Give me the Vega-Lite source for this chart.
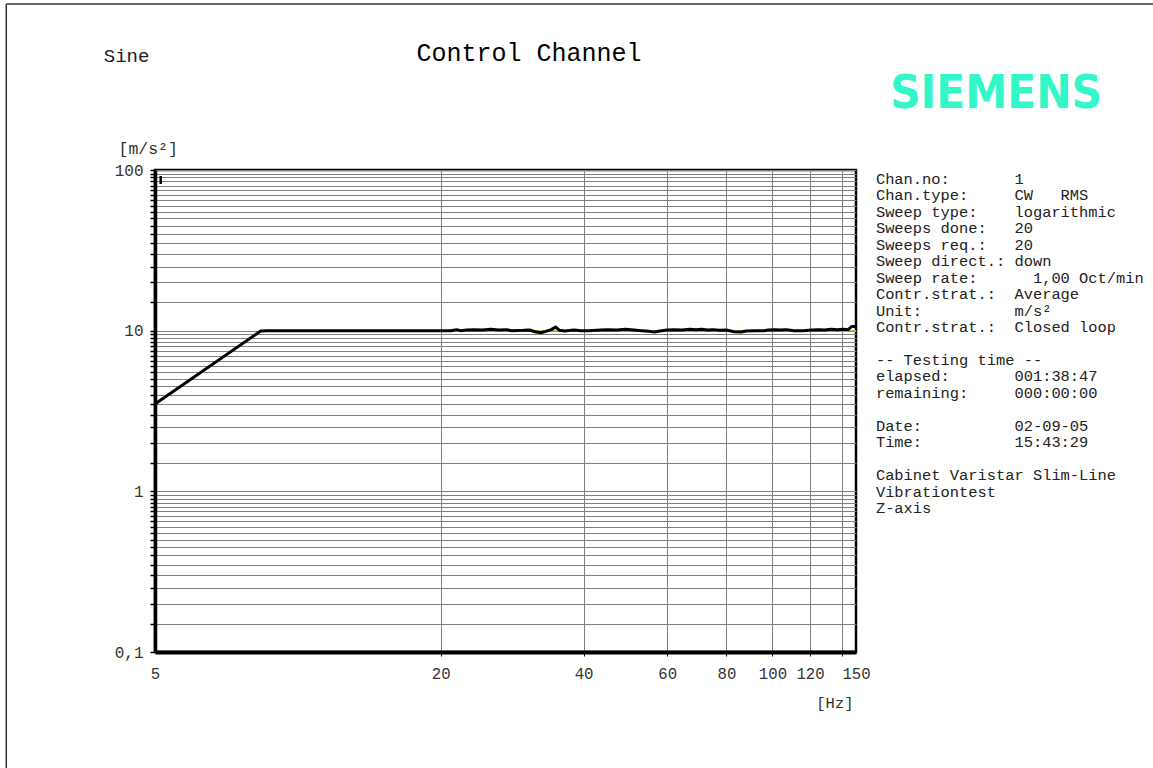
{
  "$schema": "https://vega.github.io/schema/vega-lite/v6.json",
  "width": 701,
  "height": 482,
  "autosize": {"type": "none"},
  "padding": {"left": 155, "top": 170, "right": 297, "bottom": 116},
  "background": "white",
  "config": {
    "view": {"stroke": "black", "strokeWidth": 2.5},
    "font": "Liberation Mono"
  },
  "datasets": {
    "control": [
      {"f": 5, "a": 3.5},
      {"f": 8.35, "a": 9.95},
      {"f": 8.6, "a": 10.0},
      {"f": 12, "a": 10.0},
      {"f": 16, "a": 10.0},
      {"f": 21, "a": 10.0},
      {"f": 21.6, "a": 10.15},
      {"f": 22, "a": 10.0},
      {"f": 22.7, "a": 10.1},
      {"f": 23.5, "a": 10.15},
      {"f": 24.5, "a": 10.1},
      {"f": 25.5, "a": 10.2},
      {"f": 26.5, "a": 10.1},
      {"f": 27.5, "a": 10.15},
      {"f": 28.2, "a": 10.0},
      {"f": 29.9, "a": 10.05},
      {"f": 30.8, "a": 10.1},
      {"f": 31.6, "a": 9.85},
      {"f": 32.5, "a": 9.7},
      {"f": 33.3, "a": 9.9},
      {"f": 34.2, "a": 10.15},
      {"f": 34.9, "a": 10.55},
      {"f": 35.6, "a": 10.05},
      {"f": 36.5, "a": 9.95},
      {"f": 38.2, "a": 10.1},
      {"f": 39.5, "a": 10.0},
      {"f": 41, "a": 10.0},
      {"f": 43.5, "a": 10.1},
      {"f": 45, "a": 10.15},
      {"f": 47, "a": 10.1},
      {"f": 49, "a": 10.2},
      {"f": 51, "a": 10.1},
      {"f": 53, "a": 10.0},
      {"f": 55, "a": 9.9},
      {"f": 56.4, "a": 9.8},
      {"f": 58, "a": 9.95},
      {"f": 60, "a": 10.1},
      {"f": 62, "a": 10.15},
      {"f": 64.5, "a": 10.1},
      {"f": 67, "a": 10.2},
      {"f": 69, "a": 10.15},
      {"f": 71, "a": 10.2},
      {"f": 73, "a": 10.1},
      {"f": 75, "a": 10.15},
      {"f": 77.5, "a": 10.05},
      {"f": 80, "a": 10.1},
      {"f": 83, "a": 9.85},
      {"f": 85.9, "a": 9.8},
      {"f": 88, "a": 9.95},
      {"f": 92, "a": 10.0},
      {"f": 96, "a": 10.0},
      {"f": 98, "a": 10.1},
      {"f": 101, "a": 10.15},
      {"f": 104, "a": 10.1},
      {"f": 107, "a": 10.15},
      {"f": 111, "a": 10.0},
      {"f": 116, "a": 10.0},
      {"f": 121, "a": 10.1},
      {"f": 125, "a": 10.15},
      {"f": 129, "a": 10.1},
      {"f": 133, "a": 10.2},
      {"f": 137, "a": 10.15},
      {"f": 141, "a": 10.2},
      {"f": 144.4, "a": 10.15},
      {"f": 146.8, "a": 10.6},
      {"f": 150, "a": 10.6}
    ],
    "reference": [
      {"f": 5, "a": 3.5},
      {"f": 8.4, "a": 10.0},
      {"f": 150, "a": 10.0}
    ]
  },
  "resolve": {"axis": {"x": "independent", "y": "independent"}},
  "layer": [
    {
      "data": {"values": [{}]},
      "mark": {"type": "rule", "color": "#333", "strokeWidth": 1.5},
      "encoding": {
        "x": {"datum": 2.43, "type": "quantitative", "scale": {"type": "log", "domain": [5, 150], "nice": false}, "axis": null},
        "y": {"datum": 1080, "type": "quantitative", "scale": {"type": "log", "domain": [0.1, 100], "nice": false}, "axis": null},
        "y2": {"datum": 0.001}
      }
    },
    {
      "data": {"values": [{}]},
      "mark": {"type": "rule", "color": "#333", "strokeWidth": 1.5},
      "encoding": {
        "x": {"datum": 2.43, "type": "quantitative", "scale": {"type": "log", "domain": [5, 150], "nice": false}, "axis": null},
        "x2": {"datum": 100000},
        "y": {"datum": 1080, "type": "quantitative", "scale": {"type": "log", "domain": [0.1, 100], "nice": false}, "axis": null}
      }
    },
    {
      "data": {"name": "reference"},
      "mark": {"type": "line", "color": "#8fd44a", "strokeWidth": 1.5},
      "encoding": {
        "x": {
          "field": "f", "type": "quantitative",
          "scale": {"type": "log", "domain": [5, 150], "nice": false},
          "axis": {
            "orient": "bottom",
            "values": [5, 20, 40, 60, 80, 100, 120, 150],
            "grid": false, "ticks": false, "domain": false,
            "labelFont": "Liberation Mono", "labelFontSize": 15.7, "labelColor": "#333",
            "labelPadding": 14, "labelOverlap": false, "labelFlush": false,
            "labelExpr": "datum.value == 5 ? '5' : datum.value == 20 ? '20' : datum.value == 40 ? '40' : datum.value == 60 ? '60' : datum.value == 80 ? '80' : datum.value == 100 ? '100' : datum.value == 120 ? '120' : '150'",
            "title": "[Hz]", "titleFont": "Liberation Mono", "titleFontSize": 15.5, "titleFontWeight": "normal", "titleColor": "#333",
            "titleAnchor": "end", "titleAlign": "right", "titleX": 698, "titleY": 55, "titleBaseline": "alphabetic"
          }
        },
        "y": {"field": "a", "type": "quantitative", "scale": {"type": "log", "domain": [0.1, 100], "nice": false}, "axis": null}
      }
    },
    {
      "data": {"name": "control"},
      "mark": {"type": "line", "color": "black", "strokeWidth": 3, "strokeJoin": "round"},
      "encoding": {
        "x": {
          "field": "f", "type": "quantitative",
          "scale": {"type": "log", "domain": [5, 150], "nice": false},
          "axis": {
            "orient": "bottom",
            "values": [20, 40, 60, 80, 100, 120, 140],
            "grid": true, "gridColor": "#808080", "gridWidth": 1, "gridOpacity": 1,
            "ticks": true, "tickSize": 4, "tickColor": "black", "tickWidth": 1,
            "labels": false,
            "domain": true, "domainColor": "black", "domainWidth": 4,
            "title": null
          }
        },
        "y": {
          "field": "a", "type": "quantitative",
          "scale": {"type": "log", "domain": [0.1, 100], "nice": false},
          "axis": {
            "orient": "left",
            "values": [0.1, 0.15, 0.2, 0.25, 0.3, 0.35, 0.4, 0.45, 0.5, 0.55, 0.6, 0.65, 0.7, 0.75, 0.8, 0.85, 0.9, 0.95,
                       1, 1.5, 2, 2.5, 3, 3.5, 4, 4.5, 5, 5.5, 6, 6.5, 7, 7.5, 8, 8.5, 9, 9.5,
                       10, 15, 20, 25, 30, 35, 40, 45, 50, 55, 60, 65, 70, 75, 80, 85, 90, 95, 100],
            "grid": true, "gridColor": "#808080", "gridWidth": 1, "gridOpacity": 1,
            "ticks": true, "tickSize": 5, "tickColor": "black", "tickWidth": 1.5,
            "domain": true, "domainColor": "black", "domainWidth": 3.5,
            "labelFont": "Liberation Mono", "labelFontSize": 16, "labelColor": "#333",
            "labelPadding": 7, "labelOverlap": false, "labelFlush": false,
            "labelExpr": "datum.value == 0.1 ? '0,1' : datum.value == 1 ? '1' : datum.value == 10 ? '10' : datum.value == 100 ? '100' : ''",
            "title": "[m/s²]", "titleFont": "Liberation Mono", "titleFontSize": 16.5, "titleFontWeight": "normal", "titleColor": "#333",
            "titleAngle": 0, "titleAlign": "left", "titleBaseline": "alphabetic", "titleX": -37, "titleY": -17
          }
        }
      }
    },
    {
      "data": {"values": [{}]},
      "mark": {"type": "rule", "color": "black", "strokeWidth": 2.5},
      "encoding": {
        "x": {"datum": 5.14, "type": "quantitative", "scale": {"type": "log", "domain": [5, 150], "nice": false}, "axis": null},
        "y": {"datum": 81.8, "type": "quantitative", "scale": {"type": "log", "domain": [0.1, 100], "nice": false}, "axis": null},
        "y2": {"datum": 91.8}
      }
    },
    {
      "data": {"values": [{"t": "Sine"}]},
      "mark": {"type": "text", "font": "Liberation Mono", "fontSize": 19, "color": "#222", "align": "left", "baseline": "alphabetic"},
      "encoding": {
        "x": {"datum": 3.9, "type": "quantitative", "scale": {"type": "log", "domain": [5, 150], "nice": false}, "axis": null},
        "y": {"datum": 470, "type": "quantitative", "scale": {"type": "log", "domain": [0.1, 100], "nice": false}, "axis": null},
        "text": {"field": "t"}
      }
    },
    {
      "data": {"values": [{"t": "Control Channel"}]},
      "mark": {"type": "text", "font": "Liberation Mono", "fontSize": 25, "color": "black", "align": "center", "baseline": "alphabetic"},
      "encoding": {
        "x": {"datum": 30.7, "type": "quantitative", "scale": {"type": "log", "domain": [5, 150], "nice": false}, "axis": null},
        "y": {"datum": 480, "type": "quantitative", "scale": {"type": "log", "domain": [0.1, 100], "nice": false}, "axis": null},
        "text": {"field": "t"}
      }
    },
    {
      "data": {"values": [{"t": "SIEMENS"}]},
      "mark": {"type": "text", "font": "DejaVu Sans Condensed, DejaVu Sans", "fontWeight": "bold", "fontSize": 47, "color": "#33f7c8", "align": "center", "baseline": "alphabetic"},
      "encoding": {
        "x": {"datum": 296, "type": "quantitative", "scale": {"type": "log", "domain": [5, 150], "nice": false}, "axis": null},
        "y": {"datum": 244, "type": "quantitative", "scale": {"type": "log", "domain": [0.1, 100], "nice": false}, "axis": null},
        "text": {"field": "t"}
      }
    },
    {
      "data": {"values": [{"t": "Chan.no:\u00a0\u00a0\u00a0\u00a0\u00a0\u00a0\u00a01\nChan.type:\u00a0\u00a0\u00a0\u00a0\u00a0CW\u00a0\u00a0\u00a0RMS\nSweep\u00a0type:\u00a0\u00a0\u00a0\u00a0logarithmic\nSweeps\u00a0done:\u00a0\u00a0\u00a020\nSweeps\u00a0req.:\u00a0\u00a0\u00a020\nSweep\u00a0direct.:\u00a0down\nSweep\u00a0rate:\u00a0\u00a0\u00a0\u00a0\u00a0\u00a01,00\u00a0Oct/min\nContr.strat.:\u00a0\u00a0Average\nUnit:\u00a0\u00a0\u00a0\u00a0\u00a0\u00a0\u00a0\u00a0\u00a0\u00a0m/s²\nContr.strat.:\u00a0\u00a0Closed\u00a0loop"}]},
      "mark": {"type": "text", "font": "Liberation Mono", "fontSize": 15.4, "lineHeight": 16.45, "lineBreak": "\n", "color": "#222", "align": "left", "baseline": "alphabetic"},
      "encoding": {
        "x": {"datum": 165.2, "type": "quantitative", "scale": {"type": "log", "domain": [5, 150], "nice": false}, "axis": null},
        "y": {"datum": 81.8, "type": "quantitative", "scale": {"type": "log", "domain": [0.1, 100], "nice": false}, "axis": null},
        "text": {"field": "t"}
      }
    },
    {
      "data": {"values": [{"t": "--\u00a0Testing\u00a0time\u00a0--\nelapsed:\u00a0\u00a0\u00a0\u00a0\u00a0\u00a0\u00a0001:38:47\nremaining:\u00a0\u00a0\u00a0\u00a0\u00a0000:00:00"}]},
      "mark": {"type": "text", "font": "Liberation Mono", "fontSize": 15.4, "lineHeight": 16.45, "lineBreak": "\n", "color": "#222", "align": "left", "baseline": "alphabetic"},
      "encoding": {
        "x": {"datum": 165.2, "type": "quantitative", "scale": {"type": "log", "domain": [5, 150], "nice": false}, "axis": null},
        "y": {"datum": 6.117, "type": "quantitative", "scale": {"type": "log", "domain": [0.1, 100], "nice": false}, "axis": null},
        "text": {"field": "t"}
      }
    },
    {
      "data": {"values": [{"t": "Date:\u00a0\u00a0\u00a0\u00a0\u00a0\u00a0\u00a0\u00a0\u00a0\u00a002-09-05\nTime:\u00a0\u00a0\u00a0\u00a0\u00a0\u00a0\u00a0\u00a0\u00a0\u00a015:43:29"}]},
      "mark": {"type": "text", "font": "Liberation Mono", "fontSize": 15.4, "lineHeight": 16.45, "lineBreak": "\n", "color": "#222", "align": "left", "baseline": "alphabetic"},
      "encoding": {
        "x": {"datum": 165.2, "type": "quantitative", "scale": {"type": "log", "domain": [5, 150], "nice": false}, "axis": null},
        "y": {"datum": 2.383, "type": "quantitative", "scale": {"type": "log", "domain": [0.1, 100], "nice": false}, "axis": null},
        "text": {"field": "t"}
      }
    },
    {
      "data": {"values": [{"t": "Cabinet\u00a0Varistar\u00a0Slim-Line\nVibrationtest\nZ-axis"}]},
      "mark": {"type": "text", "font": "Liberation Mono", "fontSize": 15.4, "lineHeight": 16.45, "lineBreak": "\n", "color": "#222", "align": "left", "baseline": "alphabetic"},
      "encoding": {
        "x": {"datum": 165.2, "type": "quantitative", "scale": {"type": "log", "domain": [5, 150], "nice": false}, "axis": null},
        "y": {"datum": 1.175, "type": "quantitative", "scale": {"type": "log", "domain": [0.1, 100], "nice": false}, "axis": null},
        "text": {"field": "t"}
      }
    }
  ]
}
